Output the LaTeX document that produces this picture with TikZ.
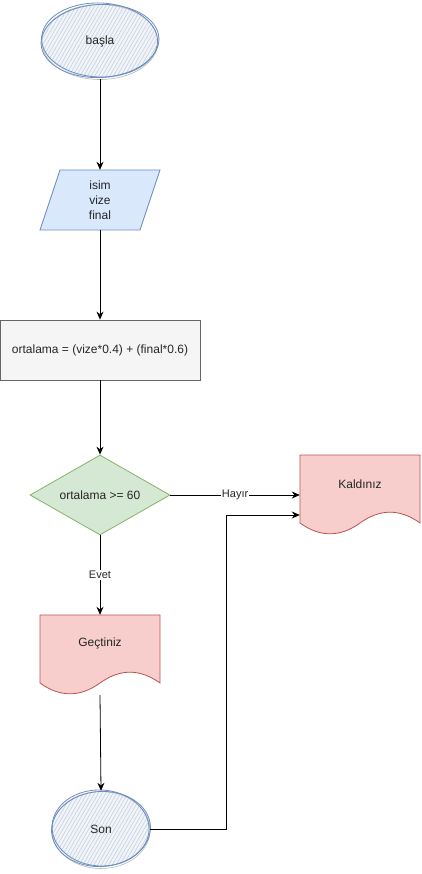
\documentclass[tikz,border=0pt]{standalone}
\usepackage{fontspec}
\setmainfont{Liberation Sans}
\usetikzlibrary{shapes.geometric,arrows.meta,patterns.meta}
\definecolor{bfill}{HTML}{DAE8FC}
\definecolor{bline}{HTML}{6C8EBF}
\definecolor{gfill}{HTML}{F5F5F5}
\definecolor{gline}{HTML}{666666}
\definecolor{grfill}{HTML}{D5E8D4}
\definecolor{grline}{HTML}{82B366}
\definecolor{rfill}{HTML}{F8CECC}
\definecolor{rline}{HTML}{B85450}
\begin{document}
\begin{tikzpicture}[x=1pt,y=-1pt,
  font=\fontsize{12}{15}\selectfont,
  every node/.style={text=black!85, align=center, inner sep=0pt},
  conn/.style={draw=black, line width=0.8pt, -{Stealth[length=8pt,width=7pt]}},
  elabel/.style={fill=white, font=\fontsize{11}{13}\selectfont, inner sep=1pt},
  hatch/.style={pattern={Lines[angle=60,distance=3.2pt,line width=0.7pt]}, pattern color=gray!35},
  sketch/.style={draw=bline, line width=0.8pt},
  sketchg/.style={draw=gray!55, line width=0.6pt}
]
\useasboundingbox (0,0) rectangle (421,874);

% start ellipse
\node[ellipse, minimum width=118pt, minimum height=76pt] (start) at (100,41) {};
\fill[bfill!45] (start.center) ellipse [x radius=58, y radius=37];
\path[hatch] (start.center) ellipse [x radius=58, y radius=37];
\draw[sketchg] (100,42) ellipse [x radius=58, y radius=37.5];
\draw[sketch, rotate around={3:(100,41)}] (100,41) ellipse [x radius=59, y radius=36.5];
\draw[sketch, rotate around={-2:(100,41)}] (99.5,40) ellipse [x radius=58, y radius=37];
\node at (start.center) {başla};

% input parallelogram
\node[minimum width=100pt, minimum height=60pt] (input) at (100,200) {};
\draw[fill=bfill, draw=bline, line width=0.8pt] (60,170) -- (160,170) -- (140,230) -- (40,230) -- cycle;
\node at (input.center) {isim\\vize\\final};

% process
\node[draw=gline, fill=gfill, line width=0.8pt, minimum width=200pt, minimum height=60pt] (proc) at (100,350) {ortalama = (vize*0.4) + (final*0.6)};

% decision
\node[diamond, draw=grline, fill=grfill, line width=0.8pt, minimum width=140pt, minimum height=80pt, aspect=1.75] (dec) at (100,495) {};
\node at (dec.center) {ortalama >= 60};

% Kaldiniz document
\draw[fill=rfill, draw=rline, line width=0.8pt] (300,455) -- (420,455) -- (420,523)
  .. controls (400,508.6) and (380,508.6) .. (360,523)
  .. controls (340,537.4) and (320,537.4) .. (300,523) -- cycle;
\node[minimum width=120pt, minimum height=56pt] (fail) at (360,484) {Kaldınız};

% Gectiniz document
\draw[fill=rfill, draw=rline, line width=0.8pt] (40,615) -- (160,615) -- (160,683)
  .. controls (140,668.6) and (120,668.6) .. (100,683)
  .. controls (80,697.4) and (60,697.4) .. (40,683) -- cycle;
\node[minimum width=120pt, minimum height=56pt] (pass) at (100,643) {Geçtiniz};
\coordinate (passbot) at (100,695);

% end ellipse
\node[ellipse, minimum width=98pt, minimum height=76pt] (son) at (101,829) {};
\fill[bfill!45] (son.center) ellipse [x radius=49, y radius=38];
\path[hatch] (son.center) ellipse [x radius=49, y radius=38];
\draw[sketchg] (101,830) ellipse [x radius=49, y radius=38.5];
\draw[sketch, rotate around={4:(101,829)}] (101,829) ellipse [x radius=49.5, y radius=37.5];
\draw[sketch, rotate around={-3:(101,829)}] (100.5,828) ellipse [x radius=48.5, y radius=38];
\node at (son.center) {Son};

% connectors
\draw[conn] (start.south) -- (input.north);
\draw[conn] (input.south) -- (proc.north);
\draw[conn] (proc.south) -- (dec.north);
\draw[conn] (dec.east) -- node[elabel] {Hayır} (dec.east -| fail.west);
\draw[conn] (dec.south) -- node[elabel] {Evet} (pass.north);
\draw[conn] (passbot) -- (son.north);
\coordinate (bend) at (226,515);
\draw[conn] (son.east) -| (bend) -- (bend -| fail.west);
\end{tikzpicture}
\end{document}
